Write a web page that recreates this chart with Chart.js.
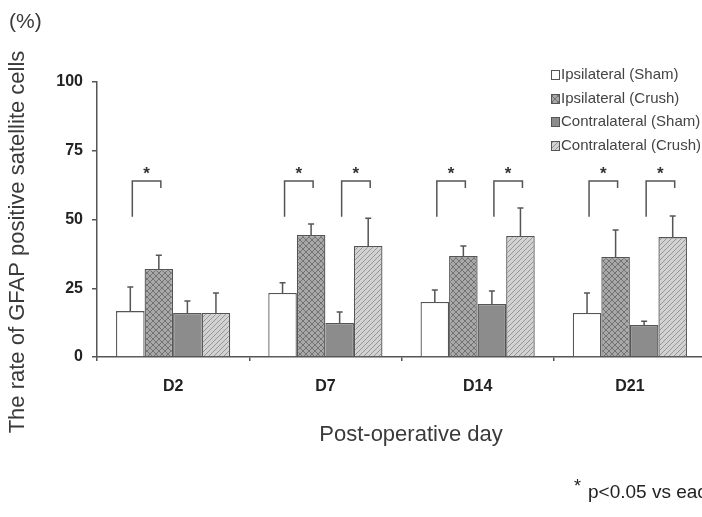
<!DOCTYPE html>
<html>
<head>
<meta charset="utf-8">
<script src="https://cdn.jsdelivr.net/npm/chart.js@4.4.0/dist/chart.umd.min.js"></script>
<style>
  html, body { margin: 0; padding: 0; background: #fff; overflow: hidden; }
  #wrap { position: absolute; left: 0; top: 0; width: 712px; height: 517px; }
</style>
</head>
<body>
<div id="wrap"><canvas id="chart"></canvas></div>
<script>
// data (upper error bar = SD)
const days = ["D2", "D7", "D14", "D21"];
const seriesNames = ["Ipsilateral (Sham)", "Ipsilateral (Crush)", "Contralateral (Sham)", "Contralateral (Crush)"];
const ipsiSham = [16.7, 23.3, 20.0, 16.0];
const ipsiShamSD = [8.8, 3.7, 4.4, 7.3];
const ipsiCrush = [32.0, 44.4, 36.7, 36.4];
const ipsiCrushSD = [5.0, 4.0, 3.7, 9.8];
const contraSham = [16.0, 12.4, 19.3, 11.6];
const contraShamSD = [4.4, 4.0, 4.7, 1.4];
const contraCrush = [16.0, 40.4, 44.0, 43.6];
const contraCrushSD = [7.3, 10.1, 10.2, 7.7];
const yTicks = [0, 25, 50, 75, 100];
// significant pairs per day (dataset indexes)
const sigPairs = [[[0, 1]], [[0, 1], [2, 3]], [[0, 1], [2, 3]], [[0, 1], [2, 3]]];
const bracketTop = 64, bracketLeftEnd = 51, bracketRightEnd = 61.5, starLevel = 67.8;

const canvas = document.getElementById("chart");
const ctx0 = canvas.getContext("2d");

function makePattern(bg, line, size, draw) {
  const c = document.createElement("canvas");
  c.width = c.height = size;
  const g = c.getContext("2d");
  g.fillStyle = bg;
  g.fillRect(0, 0, size, size);
  g.strokeStyle = line;
  g.lineWidth = 1;
  draw(g, size);
  return ctx0.createPattern(c, "repeat");
}

const crossFill = makePattern("#a8a8a8", "#727272", 6, (g, s) => {
  g.beginPath();
  g.moveTo(0, 0); g.lineTo(s, s);
  g.moveTo(0, s); g.lineTo(s, 0);
  g.stroke();
});
const diagFill = makePattern("#d2d2d2", "#969696", 5, (g, s) => {
  g.beginPath();
  g.moveTo(0, s); g.lineTo(s, 0);
  g.moveTo(-1, 1); g.lineTo(1, -1);
  g.moveTo(s - 1, s + 1); g.lineTo(s + 1, s - 1);
  g.stroke();
});

const fills = ["#ffffff", crossFill, "#8c8c8c", diagFill];
const values = [ipsiSham, ipsiCrush, contraSham, contraCrush];
const sds = [ipsiShamSD, ipsiCrushSD, contraShamSD, contraCrushSD];

const extras = {
  id: "extras",
  afterDatasetsDraw(chart) {
    const ctx = chart.ctx, y = chart.scales.y;
    ctx.save();
    ctx.strokeStyle = "#555";
    ctx.lineWidth = 1.5;
    // error bars
    chart.data.datasets.forEach((ds, i) => {
      chart.getDatasetMeta(i).data.forEach((bar, j) => {
        const top = y.getPixelForValue(ds.data[j] + sds[i][j]);
        ctx.beginPath();
        ctx.moveTo(bar.x, bar.y);
        ctx.lineTo(bar.x, top);
        ctx.moveTo(bar.x - 3, top);
        ctx.lineTo(bar.x + 3, top);
        ctx.stroke();
      });
    });
    // significance brackets
    ctx.fillStyle = "#333";
    ctx.font = "bold 17px 'Liberation Sans', Arial, sans-serif";
    ctx.textAlign = "center";
    ctx.textBaseline = "middle";
    sigPairs.forEach((pairs, j) => {
      pairs.forEach(([a, b]) => {
        const xa = chart.getDatasetMeta(a).data[j].x + 2;
        const xb = chart.getDatasetMeta(b).data[j].x + 2;
        const yt = y.getPixelForValue(bracketTop);
        ctx.beginPath();
        ctx.moveTo(xa, y.getPixelForValue(bracketLeftEnd));
        ctx.lineTo(xa, yt);
        ctx.lineTo(xb, yt);
        ctx.lineTo(xb, y.getPixelForValue(bracketRightEnd));
        ctx.stroke();
        ctx.fillText("*", (xa + xb) / 2, y.getPixelForValue(starLevel) + 4);
      });
    });
    ctx.restore();
  },
  afterDraw(chart) {
    const ctx = chart.ctx;
    ctx.save();
    ctx.fillStyle = "#3a3a3a";
    ctx.textBaseline = "middle";
    // "(%)"
    ctx.font = "21px 'Liberation Sans', Arial, sans-serif";
    ctx.textAlign = "left";
    ctx.fillText("(%)", 9, 22);
    // axis titles
    ctx.font = "22px 'Liberation Sans', Arial, sans-serif";
    ctx.textAlign = "center";
    ctx.fillText("Post-operative day", 411, 435);
    ctx.save();
    ctx.translate(18, 242);
    ctx.rotate(-Math.PI / 2);
    ctx.fillText("The rate of GFAP positive satellite cells", 0, 0);
    ctx.restore();
    // footnote
    ctx.textAlign = "left";
    ctx.fillStyle = "#222";
    ctx.font = "18px 'Liberation Sans', Arial, sans-serif";
    ctx.fillText("*", 574, 487);
    ctx.font = "19px 'Liberation Sans', Arial, sans-serif";
    ctx.fillText("p<0.05 vs each", 588, 493);
    // legend
    const rows = [75, 99, 122, 146];
    ctx.font = "15px 'Liberation Sans', Arial, sans-serif";
    seriesNames.forEach((name, i) => {
      const ry = rows[i];
      ctx.fillStyle = fills[i];
      ctx.fillRect(551, ry - 5, 9, 10);
      ctx.strokeStyle = "#555";
      ctx.lineWidth = 1;
      ctx.strokeRect(551.5, ry - 4.5, 8, 9);
      ctx.fillStyle = "#444";
      ctx.fillText(name, 561, ry);
    });
    ctx.restore();
  }
};

new Chart(canvas, {
  type: "bar",
  data: {
    labels: days,
    datasets: seriesNames.map((name, i) => ({
      label: name,
      data: values[i],
      backgroundColor: fills[i],
      borderColor: "#555",
      borderWidth: 1.3,
      categoryPercentage: 0.75,
      barPercentage: 1.0
    }))
  },
  options: {
    responsive: true,
    maintainAspectRatio: false,
    animation: false,
    layout: { padding: { top: 82, right: 6, left: 0, bottom: 0 } },
    plugins: {
      legend: { display: false },
      tooltip: { enabled: false }
    },
    scales: {
      x: {
        afterFit: s => { s.height = 160; },
        grid: { drawOnChartArea: false, tickLength: 4, color: "#555", lineWidth: 1.5 },
        border: { display: true, color: "#555", width: 1.5 },
        ticks: {
          color: "#222",
          padding: 16,
          font: { family: "'Liberation Sans', Arial, sans-serif", size: 16, weight: "bold" }
        }
      },
      y: {
        min: 0,
        max: 100,
        afterFit: s => { s.width = 97; },
        afterBuildTicks: s => { s.ticks = yTicks.map(v => ({ value: v })); },
        grid: { drawOnChartArea: false, tickLength: 5, color: "#555", lineWidth: 1.5 },
        border: { display: true, color: "#555", width: 1.5 },
        ticks: {
          color: "#222",
          padding: 9,
          font: { family: "'Liberation Sans', Arial, sans-serif", size: 16, weight: "bold" }
        }
      }
    }
  },
  plugins: [extras]
});
</script>
</body>
</html>
